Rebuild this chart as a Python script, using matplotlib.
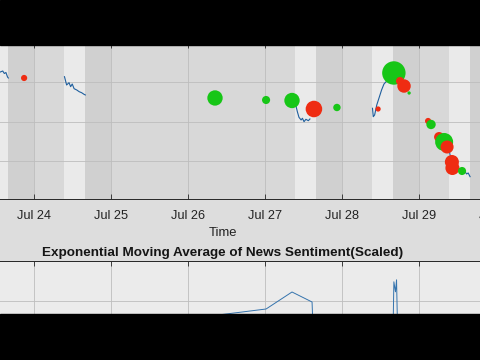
import numpy as np
import pandas as pd
import matplotlib
matplotlib.use("Agg")
import matplotlib.pyplot as plt
import matplotlib.dates as mdates
from matplotlib.patches import Rectangle

plt.rcParams['font.family'] = ['Liberation Sans', 'DejaVu Sans']

# price samples (trading hours only, gaps are split later)
price_times = [
    "2020-07-23 09:30", "2020-07-23 11:00", "2020-07-23 12:30", "2020-07-23 13:30",
    "2020-07-23 14:15", "2020-07-23 14:45", "2020-07-23 15:15", "2020-07-23 15:45",
    "2020-07-23 16:00",
    "2020-07-24 09:30", "2020-07-24 10:10", "2020-07-24 10:55", "2020-07-24 11:25",
    "2020-07-24 11:55", "2020-07-24 12:30", "2020-07-24 13:20", "2020-07-24 14:05",
    "2020-07-24 14:50", "2020-07-24 15:35", "2020-07-24 16:00",
    "2020-07-27 09:35", "2020-07-27 10:05", "2020-07-27 10:35", "2020-07-27 11:15",
    "2020-07-27 11:40", "2020-07-27 12:10", "2020-07-27 12:45", "2020-07-27 13:30",
    "2020-07-27 14:00",
    "2020-07-28 09:30", "2020-07-28 09:45", "2020-07-28 10:10", "2020-07-28 10:50",
    "2020-07-28 11:40", "2020-07-28 12:20", "2020-07-28 13:05", "2020-07-28 13:45",
    "2020-07-29 09:30", "2020-07-29 10:00", "2020-07-29 10:35", "2020-07-29 12:10",
    "2020-07-29 13:25", "2020-07-29 14:20", "2020-07-29 14:50", "2020-07-29 15:20",
    "2020-07-29 15:55",
]
price_values = [
    402.15, 403.16, 402.40, 402.66, 402.91, 402.28, 402.53, 401.39, 401.14,
    401.47, 399.37, 399.95, 398.94, 399.62, 398.43, 398.10, 397.67, 397.42, 397.01, 396.84,
    394.30, 392.61, 391.19, 390.51, 390.94, 390.08, 390.68, 390.33, 390.76,
    393.47, 391.34, 391.77, 394.30, 396.41, 398.10, 399.62, 400.20,
    382.41, 380.38, 379.11, 378.35, 377.85, 377.42, 376.84, 377.09, 376.15,
]

# news events: time, price at the time, sentiment score (sign = colour, size = strength)
news_times = [
    "2020-07-23 20:55", "2020-07-26 08:25", "2020-07-27 00:20", "2020-07-27 08:25",
    "2020-07-27 15:15", "2020-07-27 22:25", "2020-07-28 11:15", "2020-07-28 16:10",
    "2020-07-28 18:05", "2020-07-28 19:20", "2020-07-28 20:55", "2020-07-29 02:50",
    "2020-07-29 03:45", "2020-07-29 06:15", "2020-07-29 07:50", "2020-07-29 08:45",
    "2020-07-29 10:15", "2020-07-29 10:25", "2020-07-29 13:25",
]
news_prices = [
    401.14, 396.08, 395.57, 395.44, 393.29, 393.67, 393.29, 402.41,
    400.38, 399.11, 397.34, 390.25, 389.37, 386.20, 384.94, 383.67,
    379.87, 378.35, 377.59,
]
news_sentiment = [
    -0.07, 0.43, 0.12, 0.43, -0.50, 0.10, -0.05, 1.00,
    -0.12, -0.33, 0.02, -0.07, 0.16, -0.18, 0.59, -0.31,
    -0.36, -0.36, 0.12,
]

# EMA of news sentiment (scaled)
ema_times = [
    "2020-07-23 20:55", "2020-07-26 08:25", "2020-07-27 00:20", "2020-07-27 08:25",
    "2020-07-27 14:40", "2020-07-27 15:15", "2020-07-27 22:25", "2020-07-28 11:15",
    "2020-07-28 15:50", "2020-07-28 16:10", "2020-07-28 16:40", "2020-07-28 17:00",
    "2020-07-28 17:25", "2020-07-28 19:20", "2020-07-29 03:45", "2020-07-29 07:50",
    "2020-07-29 13:25",
]
ema_values = [
    -1.20, -0.36, -0.20, 0.225, -0.025, -1.30, -1.10, -1.20,
    -1.10, 0.48, 0.23, 0.53, -1.10, -1.20, -1.25, -1.10, -1.30,
]

trading_days = ["2020-07-22", "2020-07-23", "2020-07-24", "2020-07-27",
                "2020-07-28", "2020-07-29", "2020-07-30"]
tick_days = pd.date_range("2020-07-24", "2020-07-30", freq="D")

pt = pd.to_datetime(pd.Series(price_times))
pv = pd.Series(price_values, dtype=float)
# break the line where there is a gap (overnight / weekend)
gap = pt.diff() > pd.Timedelta(hours=2)
seg_id = gap.cumsum()

nt = pd.to_datetime(news_times)
ns = np.array(news_sentiment)
ncol = np.where(ns > 0, '#17c617', '#ef2c12')

fig = plt.figure(figsize=(4.8, 3.6), dpi=100, facecolor='#dddddd')
L, W = -54.6 / 480, 556 / 480
ax1 = fig.add_axes([L, 161 / 360, W, 156 / 360])
ax2 = fig.add_axes([L, 0.0, W, 99 / 360])

xmin = pd.Timestamp("2020-07-22 20:23")
xmax = pd.Timestamp("2020-07-30 01:41")

# session shading
ax1.set_facecolor('#d8d8d8')
for d in pd.to_datetime(trading_days):
    ax1.axvspan(d + pd.Timedelta(hours=9.5), d + pd.Timedelta(hours=16),
                color='#eaeaea', lw=0, zorder=0.5)
    ax1.axvspan(d + pd.Timedelta(hours=16), d + pd.Timedelta(hours=24),
                color='#d0d0d0', lw=0, zorder=0.5)

for k, g in pv.groupby(seg_id):
    ax1.plot(pt[g.index], g.values, color='#1f5f9e', lw=0.8, zorder=2)

ax1.scatter(nt, news_prices, s=np.abs(ns) * 284, c=ncol, linewidths=0, zorder=3)

ax1.set_xlim(xmin, xmax)
ax1.set_ylim(370.5, 410)
ax1.set_yticks([380, 390, 400, 410])

ax2.set_facecolor('#ebebeb')
ax2.plot(pd.to_datetime(ema_times), ema_values, color='#3473ad', lw=0.7, zorder=2)
ax2.set_xlim(xmin, xmax)
ax2.set_ylim(-1.475, 1)
ax2.set_yticks([-1, 0, 1])

for ax in (ax1, ax2):
    ax.set_xticks(tick_days)
    ax.xaxis.set_major_formatter(mdates.DateFormatter('%b %d'))
    ax.set_axisbelow('line')
    ax.grid(True, color='#bdbdbd', lw=0.6)
    ax.tick_params(direction='in', length=3.5, width=0.6, color='#262626',
                   top=True, right=True, labelsize=9.2, pad=8, labelcolor='#222222',
                   labelleft=False)
    for sp in ax.spines.values():
        sp.set_color('#262626')
        sp.set_linewidth(0.7)

ax2.tick_params(labelbottom=False)
ax1.set_xlabel('Time', fontsize=9.4, color='#222222')
ax1.xaxis.set_label_coords(0.5, -0.18)

fig.text(223 / 480, 1 - 253 / 360, 'Exponential Moving Average of News Sentiment(Scaled)',
         ha='center', va='center', fontsize=9.7, fontweight='bold', color='#151515')

# letterbox bars of the frame
fig.patches.append(Rectangle((0, 1 - 45 / 360), 1, 45 / 360, transform=fig.transFigure,
                             color='black', zorder=10))
fig.patches.append(Rectangle((0, 0), 1, 46 / 360, transform=fig.transFigure,
                             color='black', zorder=10))

fig.savefig('out.png', dpi=100, facecolor=fig.get_facecolor())
